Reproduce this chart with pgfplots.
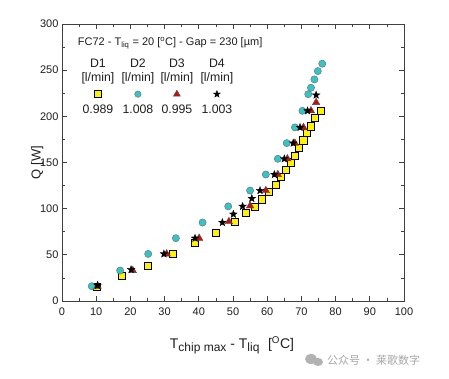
\documentclass[border=0pt]{standalone}
\usepackage{pgfplots}
\pgfplotsset{compat=1.18}
\usepackage{fontspec}
\setmainfont{Liberation Sans}
\newfontfamily\cjk{Noto Sans CJK SC}
\definecolor{txt}{HTML}{1E1E1E}
\definecolor{d1}{HTML}{FFF200}
\definecolor{d2}{HTML}{33C6C8}
\definecolor{d3}{HTML}{C41010}
\pgfdeclareplotmark{fstar}{%
  \pgfpathmoveto{\pgfpointpolar{90}{\pgfplotmarksize}}%
  \pgfpathlineto{\pgfpointpolar{126}{0.42\pgfplotmarksize}}%
  \pgfpathlineto{\pgfpointpolar{162}{\pgfplotmarksize}}%
  \pgfpathlineto{\pgfpointpolar{198}{0.42\pgfplotmarksize}}%
  \pgfpathlineto{\pgfpointpolar{234}{\pgfplotmarksize}}%
  \pgfpathlineto{\pgfpointpolar{270}{0.42\pgfplotmarksize}}%
  \pgfpathlineto{\pgfpointpolar{306}{\pgfplotmarksize}}%
  \pgfpathlineto{\pgfpointpolar{342}{0.42\pgfplotmarksize}}%
  \pgfpathlineto{\pgfpointpolar{18}{\pgfplotmarksize}}%
  \pgfpathlineto{\pgfpointpolar{54}{0.42\pgfplotmarksize}}%
  \pgfpathclose
  \pgfusepathqfillstroke
}
\newcommand{\sub}[1]{\raisebox{-0.35ex}{\fontsize{12}{14}\selectfont #1}}
\begin{document}
\begin{tikzpicture}
\path[use as bounding box] (-62pt,-78pt) rectangle (387pt,301pt);
\begin{axis}[
  at={(0,0)}, anchor=south west, scale only axis,
  width=342pt, height=277pt,
  xmin=0, xmax=100, ymin=0, ymax=300,
  xtick distance=10, ytick distance=50,
  minor x tick num=1, minor y tick num=1,
  major tick length=5pt, minor tick length=3pt,
  axis line style={black!75, line width=0.8pt},
  every tick/.style={black!75, line width=0.7pt},
  tick label style={font=\fontsize{11}{13}\selectfont, text=txt},
  xticklabel style={yshift=-3.5pt},
  /pgf/number format/assume math mode=true,
  label style={text=txt},
  xlabel={\fontsize{14}{16}\selectfont T\sub{chip max} - T\sub{liq}\,\, [\textsuperscript{O}C]},
  ylabel={\fontsize{13}{15}\selectfont Q [W]},
  xlabel style={at={(axis description cs:0.497,-0.16)}, anchor=center},
  ylabel style={at={(axis description cs:-0.072,0.5)}, anchor=center},
  clip=false,
]
% D1 yellow squares
\addplot[only marks, mark=square*, mark size=3.6pt, mark options={fill=d1, draw=black, line width=0.8pt}] coordinates {
(10.3,15) (17.5,27) (25,38) (32.4,51) (38.9,63) (44.9,74) (50.6,86) (53.8,95) (56.4,102)
(58.4,110) (60.6,118) (62.6,126) (64,134) (65.5,142) (66.9,150) (68,157) (69.3,166)
(70.6,174) (71.7,182) (72.8,189) (74,198) (75.6,206)
};
% D2 cyan circles
\addplot[only marks, mark=*, mark size=3.6pt, mark options={fill=d2, draw=black!55, line width=0.5pt}] coordinates {
(8.7,16) (17,33) (25.2,51) (33.3,68) (41.1,85) (48.6,102.5) (55,119.6) (59.6,137)
(63.1,154) (65.7,171) (68.1,188) (70.3,206) (72,224) (72.8,231) (73.8,240) (74.8,249) (76.1,257)
};
% D3 red triangles
\addplot[only marks, mark=triangle*, mark size=4.3pt, mark options={fill=d3, draw=black!70, line width=0.4pt}] coordinates {
(10.4,16) (20.7,33) (30.6,51) (40.1,68) (48.8,86) (55,103) (59.6,119.6) (63.1,137)
(65.9,154) (68.1,171) (70.6,188) (72.8,206) (74.3,215)
};
% D4 black stars
\addplot[only marks, mark=fstar, mark size=4pt, mark options={fill=black, draw=black, line width=0.3pt}] coordinates {
(10.4,17) (20.2,34) (29.8,51) (38.9,68) (46.9,85) (50.1,94) (52.8,102.5) (55.5,111)
(57.9,119.6) (62.1,137) (65,154) (67.6,171) (69.6,188) (71.8,206) (74.3,223)
};
% legend markers
\addplot[forget plot, only marks, mark=square*, mark size=3.3pt, mark options={fill=d1, draw=black, line width=0.8pt}] coordinates {(10.5,224)};
\addplot[forget plot, only marks, mark=*, mark size=3.2pt, mark options={fill=d2, draw=black!55, line width=0.5pt}] coordinates {(22.2,224)};
\addplot[forget plot, only marks, mark=triangle*, mark size=4pt, mark options={fill=d3, draw=black!70, line width=0.4pt}] coordinates {(33.6,224)};
\addplot[forget plot, only marks, mark=fstar, mark size=3.7pt, mark options={fill=black, draw=black, line width=0.3pt}] coordinates {(45.3,224)};
\node[anchor=west, font=\fontsize{11}{13}\selectfont, text=txt, inner sep=0pt] at (axis cs:4.6,279) {FC72 - T\textsubscript{liq} = 20 [\textsuperscript{o}C] - Gap = 230 [µm]};
\begin{scope}[every node/.style={font=\fontsize{12.3}{14}\selectfont, text=txt, inner sep=0pt}]
\node at (axis cs:10.5,258) {D1};
\node at (axis cs:22.2,258) {D2};
\node at (axis cs:33.6,258) {D3};
\node at (axis cs:45.3,258) {D4};
\node at (axis cs:10.5,241) {[l/min]};
\node at (axis cs:22.2,241) {[l/min]};
\node at (axis cs:33.6,241) {[l/min]};
\node at (axis cs:45.3,241) {[l/min]};
\node at (axis cs:10.5,208) {0.989};
\node at (axis cs:22.2,208) {1.008};
\node at (axis cs:33.6,208) {0.995};
\node at (axis cs:45.3,208) {1.003};
\end{scope}
\end{axis}
% watermark
\fill[black!30] (249pt,-58pt) ellipse (6pt and 5pt);
\fill[black!30] (256pt,-61pt) ellipse (5pt and 4pt);
\node[anchor=west, text=black!35, font=\cjk\fontsize{11}{13}\selectfont, inner sep=0pt] at (265pt,-59pt) {公众号 · 莱歌数字};
\end{tikzpicture}
\end{document}
